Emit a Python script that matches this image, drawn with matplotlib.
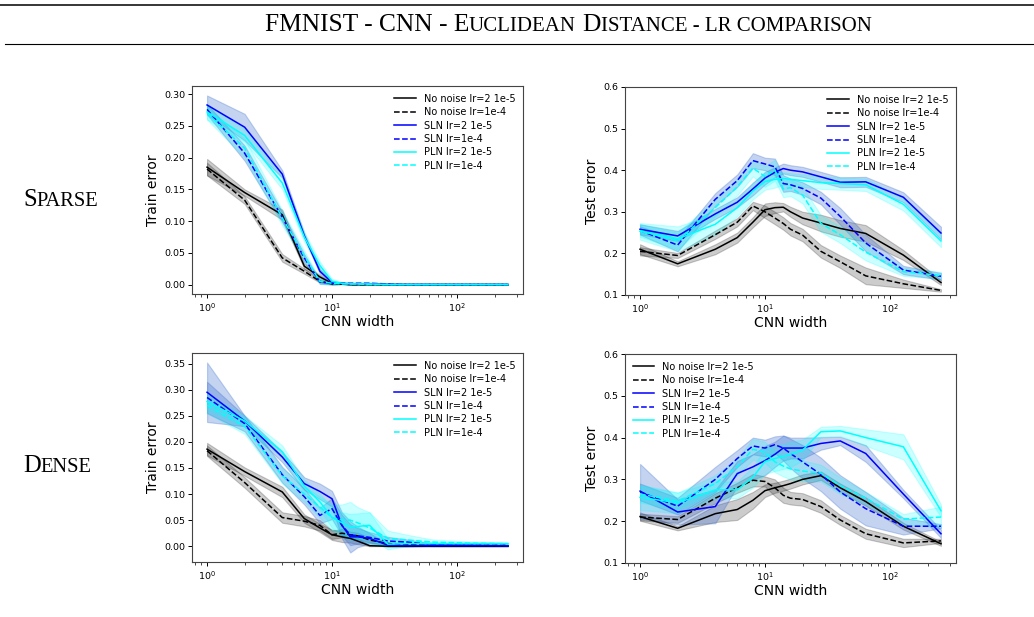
import matplotlib
matplotlib.use("Agg")
import matplotlib.pyplot as plt
from matplotlib.lines import Line2D
import numpy as np

# largeurs du CNN (axe x)
widths = [1, 2, 4, 6, 8, 10, 12, 14, 16, 20, 28, 40, 64, 128, 256]

labels = ["No noise lr=2 1e-5", "No noise lr=1e-4", "SLN lr=2 1e-5",
          "SLN lr=1e-4", "PLN lr=2 1e-5", "PLN lr=1e-4"]
colors = ["black", "black", "blue", "blue", "cyan", "cyan"]
band_colors = ["black", "black", "#3a6fd0", "#3a6fd0", "cyan", "cyan"]
band_alpha = [0.2, 0.2, 0.3, 0.3, 0.2, 0.2]
styles = ["-", "--", "-", "--", "-", "--"]

# ---- Sparse / train ----
sp_train_nn_a = [0.185, 0.145, 0.110, 0.029, 0.012, 0.002, 0.001, 0, 0, 0, 0, 0, 0, 0, 0]
sp_train_nn_a_sd = [0.013, 0.005, 0.008, 0.004, 0.003, 0.001, 0, 0, 0, 0, 0, 0, 0, 0, 0]
sp_train_nn_b = [0.182, 0.133, 0.042, 0.021, 0.005, 0.001, 0.001, 0, 0, 0, 0, 0, 0, 0, 0]
sp_train_nn_b_sd = [0.010, 0.006, 0.006, 0.004, 0.002, 0.001, 0, 0, 0, 0, 0, 0, 0, 0, 0]
sp_train_sln_a = [0.283, 0.248, 0.174, 0.077, 0.021, 0.003, 0.002, 0.001, 0.001, 0.001, 0, 0, 0, 0, 0]
sp_train_sln_a_sd = [0.015, 0.021, 0.006, 0.004, 0.004, 0.003, 0.001, 0.001, 0.001, 0.001, 0, 0, 0, 0, 0]
sp_train_sln_b = [0.276, 0.207, 0.106, 0.042, 0.004, 0.002, 0.002, 0.002, 0.002, 0.002, 0.001, 0, 0, 0, 0]
sp_train_sln_b_sd = [0.008, 0.012, 0.008, 0.006, 0.003, 0.002, 0.001, 0.001, 0.001, 0.001, 0, 0, 0, 0, 0]
sp_train_pln_a = [0.272, 0.235, 0.160, 0.075, 0.030, 0.005, 0.002, 0.001, 0.001, 0.001, 0, 0, 0, 0, 0]
sp_train_pln_a_sd = [0.012, 0.010, 0.010, 0.008, 0.006, 0.004, 0.002, 0.001, 0.001, 0.001, 0, 0, 0, 0, 0]
sp_train_pln_b = [0.270, 0.215, 0.105, 0.045, 0.005, 0.002, 0.001, 0.001, 0.001, 0, 0, 0, 0, 0, 0]
sp_train_pln_b_sd = [0.010, 0.015, 0.012, 0.008, 0.004, 0.002, 0.001, 0.001, 0.001, 0, 0, 0, 0, 0, 0]

# ---- Sparse / test ----
sp_test_nn_a = [0.210, 0.175, 0.210, 0.238, 0.275, 0.305, 0.310, 0.311, 0.300, 0.285, 0.273, 0.260, 0.248, 0.196, 0.130]
sp_test_nn_a_sd = [0.012, 0.006, 0.012, 0.012, 0.012, 0.015, 0.013, 0.010, 0.012, 0.015, 0.020, 0.020, 0.020, 0.012, 0.006]
sp_test_nn_b = [0.205, 0.195, 0.245, 0.275, 0.314, 0.300, 0.285, 0.272, 0.258, 0.244, 0.205, 0.180, 0.146, 0.127, 0.111]
sp_test_nn_b_sd = [0.010, 0.006, 0.010, 0.010, 0.010, 0.015, 0.015, 0.015, 0.015, 0.015, 0.015, 0.015, 0.020, 0.010, 0.003]
sp_test_sln_a = [0.258, 0.242, 0.295, 0.323, 0.355, 0.381, 0.395, 0.404, 0.400, 0.396, 0.384, 0.371, 0.372, 0.335, 0.249]
sp_test_sln_a_sd = [0.012, 0.012, 0.012, 0.012, 0.015, 0.015, 0.012, 0.012, 0.012, 0.012, 0.012, 0.012, 0.012, 0.012, 0.015]
sp_test_sln_b = [0.255, 0.220, 0.330, 0.375, 0.423, 0.415, 0.408, 0.368, 0.365, 0.356, 0.333, 0.289, 0.225, 0.160, 0.145]
sp_test_sln_b_sd = [0.010, 0.015, 0.015, 0.015, 0.018, 0.015, 0.020, 0.020, 0.015, 0.015, 0.015, 0.020, 0.020, 0.010, 0.008]
sp_test_pln_a = [0.253, 0.235, 0.270, 0.310, 0.350, 0.373, 0.378, 0.380, 0.378, 0.375, 0.370, 0.368, 0.365, 0.318, 0.230]
sp_test_pln_a_sd = [0.020, 0.030, 0.025, 0.020, 0.020, 0.020, 0.020, 0.015, 0.015, 0.015, 0.015, 0.015, 0.015, 0.015, 0.015]
sp_test_pln_b = [0.255, 0.230, 0.310, 0.360, 0.405, 0.385, 0.400, 0.355, 0.358, 0.340, 0.272, 0.245, 0.203, 0.156, 0.147]
sp_test_pln_b_sd = [0.015, 0.020, 0.020, 0.020, 0.020, 0.025, 0.025, 0.020, 0.020, 0.020, 0.020, 0.020, 0.020, 0.010, 0.008]

# ---- Dense / train ----
de_train_nn_a = [0.186, 0.143, 0.104, 0.053, 0.035, 0.022, 0.018, 0.015, 0.010, 0.001, 0, 0, 0, 0, 0]
de_train_nn_a_sd = [0.012, 0.008, 0.010, 0.008, 0.008, 0.010, 0.010, 0.008, 0.006, 0.001, 0, 0, 0, 0, 0]
de_train_nn_b = [0.183, 0.122, 0.055, 0.048, 0.040, 0.022, 0.025, 0.022, 0.020, 0.012, 0.005, 0.003, 0.002, 0.002, 0.002]
de_train_nn_b_sd = [0.010, 0.010, 0.010, 0.010, 0.010, 0.008, 0.008, 0.006, 0.006, 0.005, 0.003, 0.002, 0.001, 0.001, 0.001]
de_train_sln_a = [0.295, 0.240, 0.171, 0.120, 0.105, 0.091, 0.040, 0.018, 0.018, 0.015, 0.002, 0.001, 0.001, 0.001, 0.001]
de_train_sln_a_sd = [0.057, 0.010, 0.010, 0.012, 0.015, 0.015, 0.025, 0.030, 0.020, 0.010, 0.003, 0.002, 0.001, 0.001, 0.001]
de_train_sln_b = [0.285, 0.235, 0.137, 0.095, 0.059, 0.072, 0.040, 0.022, 0.020, 0.017, 0.010, 0.008, 0.003, 0.002, 0.001]
de_train_sln_b_sd = [0.030, 0.015, 0.015, 0.015, 0.015, 0.020, 0.020, 0.020, 0.015, 0.010, 0.008, 0.005, 0.003, 0.002, 0.001]
de_train_pln_a = [0.277, 0.240, 0.181, 0.115, 0.085, 0.055, 0.045, 0.037, 0.038, 0.040, 0.004, 0.005, 0.005, 0.005, 0.005]
de_train_pln_a_sd = [0.015, 0.010, 0.012, 0.012, 0.015, 0.020, 0.020, 0.025, 0.025, 0.025, 0.010, 0.005, 0.003, 0.002, 0.001]
de_train_pln_b = [0.270, 0.230, 0.135, 0.100, 0.075, 0.055, 0.050, 0.050, 0.045, 0.035, 0.015, 0.012, 0.008, 0.006, 0.005]
de_train_pln_b_sd = [0.015, 0.015, 0.015, 0.015, 0.020, 0.025, 0.030, 0.035, 0.030, 0.030, 0.015, 0.010, 0.005, 0.003, 0.002]

# ---- Dense / test ----
de_test_nn_a = [0.211, 0.183, 0.218, 0.228, 0.250, 0.273, 0.280, 0.285, 0.290, 0.300, 0.309, 0.280, 0.247, 0.188, 0.146]
de_test_nn_a_sd = [0.010, 0.005, 0.020, 0.025, 0.020, 0.015, 0.012, 0.012, 0.012, 0.012, 0.010, 0.010, 0.010, 0.008, 0.005]
de_test_nn_b = [0.210, 0.204, 0.255, 0.280, 0.298, 0.295, 0.280, 0.262, 0.255, 0.252, 0.235, 0.203, 0.170, 0.148, 0.153]
de_test_nn_b_sd = [0.008, 0.008, 0.012, 0.012, 0.015, 0.012, 0.020, 0.018, 0.015, 0.015, 0.015, 0.012, 0.012, 0.010, 0.005]
de_test_sln_a = [0.272, 0.222, 0.235, 0.314, 0.330, 0.345, 0.360, 0.375, 0.375, 0.375, 0.386, 0.392, 0.362, 0.265, 0.170]
de_test_sln_a_sd = [0.065, 0.030, 0.040, 0.030, 0.030, 0.035, 0.030, 0.030, 0.025, 0.025, 0.015, 0.010, 0.020, 0.010, 0.010]
de_test_sln_b = [0.270, 0.236, 0.300, 0.350, 0.380, 0.375, 0.383, 0.375, 0.362, 0.342, 0.312, 0.270, 0.230, 0.188, 0.188]
de_test_sln_b_sd = [0.020, 0.020, 0.030, 0.020, 0.020, 0.020, 0.020, 0.030, 0.035, 0.040, 0.040, 0.040, 0.040, 0.020, 0.005]
de_test_pln_a = [0.257, 0.244, 0.275, 0.275, 0.305, 0.343, 0.350, 0.355, 0.360, 0.370, 0.414, 0.416, 0.400, 0.378, 0.225]
de_test_pln_a_sd = [0.030, 0.025, 0.020, 0.020, 0.025, 0.030, 0.030, 0.030, 0.030, 0.025, 0.012, 0.012, 0.020, 0.030, 0.015]
de_test_pln_b = [0.265, 0.248, 0.290, 0.330, 0.372, 0.365, 0.342, 0.332, 0.325, 0.320, 0.315, 0.285, 0.255, 0.205, 0.210]
de_test_pln_b_sd = [0.020, 0.020, 0.020, 0.020, 0.025, 0.025, 0.025, 0.025, 0.025, 0.025, 0.020, 0.020, 0.015, 0.012, 0.025]

W, H = 1034, 617
SERIF = "Liberation Serif"


def px_axes(fig, left, top, right, bottom):
    """Crée un axe à partir de coordonnées en pixels (origine en haut à gauche)."""
    return fig.add_axes([left / W, 1 - bottom / H, (right - left) / W, (bottom - top) / H])


def draw_panel(ax, series, ylabel, legend_loc, test=False):
    x = np.array(widths)
    for i, (mean, sd) in enumerate(series):
        m = np.array(mean)
        s = np.array(sd)
        ax.plot(x, m, color=colors[i], linestyle=styles[i], linewidth=1.1, label=labels[i])
        ax.fill_between(x, m - s, m + s, color=band_colors[i], alpha=band_alpha[i], linewidth=0.8)
    ax.set_xscale("log")
    ax.set_xlabel("CNN width", fontsize=10, labelpad=1)
    ax.set_ylabel(ylabel, fontsize=10, labelpad=3)
    ax.tick_params(labelsize=6.8, length=3, width=0.7, pad=2)
    ax.tick_params(which="minor", length=1.8, width=0.5)
    if test:
        ax.set_ylim(0.1, 0.6)
        ax.set_yticks([0.1, 0.2, 0.3, 0.4, 0.5, 0.6])
    for sp in ax.spines.values():
        sp.set_color("#444444")
    ax.legend(loc=legend_loc, fontsize=7, frameon=False, labelspacing=0.35,
              handlelength=2.2, borderaxespad=0.4)


def smallcaps(fig, x_px, base_px, parts, ha="left"):
    """Ecrit un texte en petites capitales : parts = [(texte, taille), ...], nombre = espace."""
    renderer = fig.canvas.get_renderer()
    items = []
    for p in parts:
        if isinstance(p, (int, float)):
            items.append((None, p))
            continue
        t = fig.text(0, 1 - base_px / H, p[0], fontsize=p[1], family=SERIF, va="baseline")
        items.append((t, t.get_window_extent(renderer).width))
    total = sum(w for _, w in items)
    x = x_px - total / 2 if ha == "center" else x_px
    for t, w in items:
        if t is not None:
            t.set_x(x / W)
        x += w


fig = plt.figure(figsize=(W / 100, H / 100), dpi=100)

# lignes horizontales du titre
fig.add_artist(Line2D([0, 1], [1 - 5 / H, 1 - 5 / H], color="black", linewidth=1.1))
fig.add_artist(Line2D([0.005, 1], [1 - 44 / H, 1 - 44 / H], color="black", linewidth=0.8))

big, small = 18.3, 15.0
sp = big * 0.25 * 100 / 72
smallcaps(fig, 568, 31, [("FMNIST - CNN - E", big), ("UCLIDEAN", small), sp, ("D", big),
                         ("ISTANCE - LR COMPARISON", small)], ha="center")
smallcaps(fig, 23, 205.5, [("S", 17.7), ("PARSE", 14.8)])
smallcaps(fig, 23, 471.5, [("D", 17.7), ("ENSE", 14.8)])

ax1 = px_axes(fig, 192, 86, 523, 294)
draw_panel(ax1, [(sp_train_nn_a, sp_train_nn_a_sd), (sp_train_nn_b, sp_train_nn_b_sd),
                 (sp_train_sln_a, sp_train_sln_a_sd), (sp_train_sln_b, sp_train_sln_b_sd),
                 (sp_train_pln_a, sp_train_pln_a_sd), (sp_train_pln_b, sp_train_pln_b_sd)],
           "Train error", "upper right")

ax2 = px_axes(fig, 625, 87, 956, 295)
draw_panel(ax2, [(sp_test_nn_a, sp_test_nn_a_sd), (sp_test_nn_b, sp_test_nn_b_sd),
                 (sp_test_sln_a, sp_test_sln_a_sd), (sp_test_sln_b, sp_test_sln_b_sd),
                 (sp_test_pln_a, sp_test_pln_a_sd), (sp_test_pln_b, sp_test_pln_b_sd)],
           "Test error", "upper right", test=True)

ax3 = px_axes(fig, 192, 353, 523, 562)
draw_panel(ax3, [(de_train_nn_a, de_train_nn_a_sd), (de_train_nn_b, de_train_nn_b_sd),
                 (de_train_sln_a, de_train_sln_a_sd), (de_train_sln_b, de_train_sln_b_sd),
                 (de_train_pln_a, de_train_pln_a_sd), (de_train_pln_b, de_train_pln_b_sd)],
           "Train error", "upper right")

ax4 = px_axes(fig, 625, 354, 956, 563)
draw_panel(ax4, [(de_test_nn_a, de_test_nn_a_sd), (de_test_nn_b, de_test_nn_b_sd),
                 (de_test_sln_a, de_test_sln_a_sd), (de_test_sln_b, de_test_sln_b_sd),
                 (de_test_pln_a, de_test_pln_a_sd), (de_test_pln_b, de_test_pln_b_sd)],
           "Test error", "upper left", test=True)

fig.savefig("out.png", dpi=100)
